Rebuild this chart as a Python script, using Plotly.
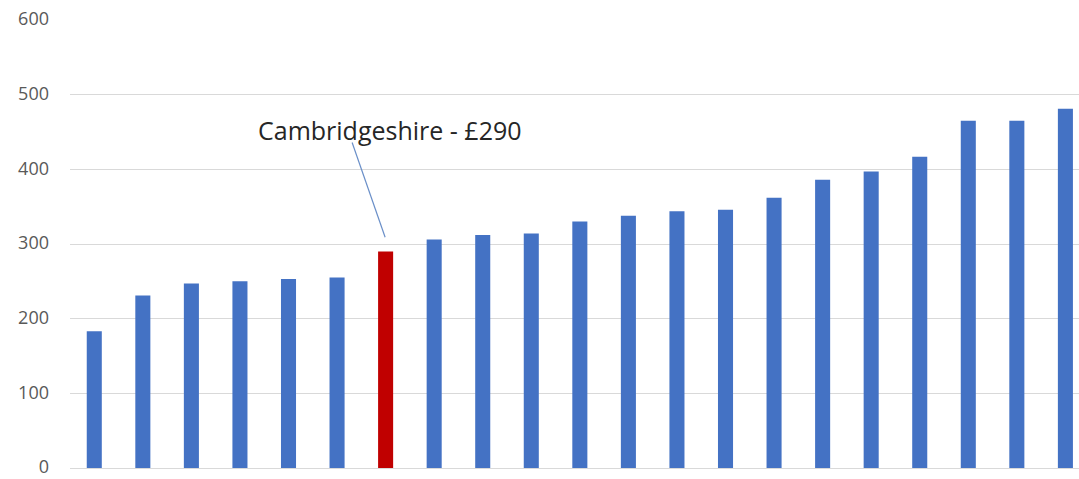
import plotly.graph_objects as go

categories = [f"Area {i}" for i in range(1, 22)]
values = [183, 231, 247, 250, 253, 255, 290, 306, 312, 314, 330, 338, 344, 346, 362, 386, 397, 417, 465, 465, 481]
highlight = "Area 7"
highlight_label = "Cambridgeshire - £290"
y_ticks = [0, 100, 200, 300, 400, 500, 600]

colors = ["#C00000" if c == highlight else "#4472C4" for c in categories]

fig = go.Figure(go.Bar(x=categories, y=values, marker=dict(color=colors, line=dict(width=0)),
                       width=0.31))

hi = categories.index(highlight)
fig.add_shape(type="line", xref="x", yref="y", x0=hi - 0.69, y0=436, x1=hi - 0.01, y1=309,
              line=dict(color="#6a8fc8", width=1.2))
fig.add_annotation(x=hi + 0.09, y=453, xref="x", yref="y", text=highlight_label, showarrow=False,
                   font=dict(family="Open Sans", size=25, color="#262626"))

fig.update_layout(
    width=1079, height=479,
    margin=dict(l=70, r=0, t=20, b=11, autoexpand=False),
    paper_bgcolor="white", plot_bgcolor="white",
    showlegend=False,
    bargap=0.69,
)
fig.update_xaxes(showticklabels=False, showgrid=False, zeroline=False, showline=False,
                 range=[-0.5, 20.28], automargin=False)
fig.update_yaxes(range=[0, 600], tickvals=y_ticks, showgrid=True, gridcolor="#d9d9d9", gridwidth=1.3,
                 zeroline=True, zerolinecolor="#d9d9d9", zerolinewidth=1.3,
                 tickfont=dict(family="Open Sans", size=18, color="#595959"),
                 ticks="", ticklabelstandoff=20, showline=False, ticklabeloverflow="allow",
                 ticklabelshift=-1, automargin=False)

fig.write_html("out.html")
